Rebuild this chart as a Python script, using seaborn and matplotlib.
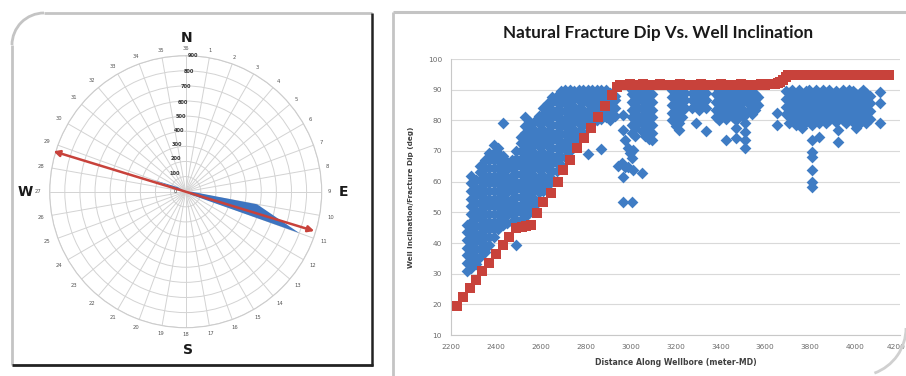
import numpy as np
import pandas as pd
import matplotlib
matplotlib.use("Agg")
import matplotlib.pyplot as plt
import matplotlib.transforms as mtransforms
import seaborn as sns
from matplotlib.patches import Arc
from matplotlib.lines import Line2D

# ---------------------------------------------------------------- data
# Rose diagram: fracture strike counts per 10-degree sector (sector k at k*10 deg)
sector_labels = [str(k) for k in range(1, 37)]
strike_count = [0, 0, 0, 0, 0, 0, 0, 0, 40, 480, 800, 40,
                0, 0, 0, 0, 0, 0, 0, 0, 0, 0, 0, 0,
                0, 0, 0, 0, 230, 60, 0, 0, 0, 0, 0, 0]
ring_values = [100, 200, 300, 400, 500, 600, 700, 800, 900]
# dominant fracture strike (azimuth, deg) drawn as the double arrow
strike_dir_w = 287.0
strike_dir_e = 107.0

# Well inclination survey (MD in m, inclination in deg)
incl_md = [2225, 2255, 2285, 2311, 2340, 2370, 2400, 2430, 2460, 2490,
           2515, 2535, 2555, 2582, 2611, 2644, 2678, 2700, 2730, 2763,
           2792, 2822, 2856, 2886, 2916, 2938,
           2952, 2967, 2982, 2997, 3012, 3027, 3042, 3057, 3072, 3087,
           3102, 3117, 3132, 3147, 3162, 3177, 3192, 3207, 3222, 3237,
           3252, 3267, 3282, 3297, 3312, 3327, 3342, 3357, 3372, 3387,
           3402, 3417, 3432, 3447, 3462, 3477, 3492, 3507, 3522, 3537,
           3552, 3567, 3582, 3597, 3612, 3627, 3642, 3655, 3667, 3679,
           3690, 3702, 3717, 3732, 3747, 3762, 3777, 3792, 3807, 3822,
           3837, 3852, 3867, 3882, 3897, 3912, 3927, 3942, 3957, 3972,
           3987, 4002, 4017, 4032, 4047, 4062, 4077, 4092, 4107, 4122,
           4137, 4150]
incl_deg = [19.6, 22.3, 25.2, 27.9, 30.9, 33.6, 36.4, 39.2, 41.9, 44.8,
            45.2, 45.5, 45.8, 49.7, 53.5, 56.4, 60.0, 63.8, 67.0, 70.9,
            74.1, 77.4, 81.2, 84.7, 88.3, 91.0,
            91.5, 91.6, 91.6, 91.7, 91.6, 91.5, 91.6, 91.7, 91.6, 91.6,
            91.5, 91.6, 91.7, 91.6, 91.6, 91.5, 91.6, 91.6, 91.7, 91.6,
            91.6, 91.5, 91.6, 91.6, 91.7, 91.6, 91.6, 91.5, 91.6, 91.6,
            91.7, 91.6, 91.6, 91.5, 91.6, 91.6, 91.7, 91.6, 91.6, 91.5,
            91.6, 91.6, 91.7, 91.6, 91.7, 91.8, 92.0, 92.2, 92.6, 93.3,
            94.2, 94.7, 94.8, 94.8, 94.9, 94.8, 94.8, 94.7, 94.8, 94.8,
            94.9, 94.8, 94.8, 94.8, 94.7, 94.8, 94.8, 94.9, 94.8, 94.8,
            94.8, 94.7, 94.8, 94.8, 94.9, 94.8, 94.8, 94.8, 94.7, 94.8,
            94.8, 94.8]

# Natural fracture dips picked along the wellbore, grouped by MD station
build_md = [2270, 2290, 2310, 2330, 2350, 2370, 2390, 2410, 2430, 2450,
            2470, 2490, 2510, 2530, 2550, 2570, 2590, 2610, 2630, 2650,
            2670, 2690, 2710, 2730, 2750, 2770, 2790, 2810, 2830, 2850,
            2870, 2890, 2910, 2930, 2944]
build_dip = [
    [31, 33.5, 36, 38.5, 41, 43.5, 46],
    [32, 34.5, 37, 39.5, 42, 44.5, 47, 49.5, 52, 54.5, 57, 59.5, 62],
    [33, 35.5, 38, 40.5, 43, 45.5, 48, 50.5, 53, 55.5, 58, 60.5],
    [35.5, 38, 40.5, 43, 45.5, 48, 50.5, 53, 55.5, 58, 60.5, 63, 65],
    [37, 39.5, 42, 44.5, 47, 49.5, 52, 54.5, 57, 59.5, 62, 64.5, 67],
    [39.5, 42, 44.5, 47, 49.5, 52, 54.5, 57, 59.5, 62, 64.5, 67, 69.5],
    [42, 44.5, 47, 49.5, 52, 54.5, 57, 59.5, 62, 64.5, 67, 69.5, 72],
    [44.5, 47, 49.5, 52, 54.5, 57, 59.5, 62, 64.5, 67, 69.5, 71],
    [46, 48.5, 51, 53.5, 56, 58.5, 61, 63.5, 66, 68.5, 79],
    [46.5, 49, 51.5, 54, 56.5, 59, 61.5, 64, 66.5],
    [47, 49.5, 52, 54.5, 57, 59.5, 62, 64.5, 67],
    [39.5, 47.5, 50, 52.5, 55, 57.5, 60, 62.5, 65, 67.5, 70],
    [47.5, 50, 52.5, 55, 57.5, 60, 62.5, 65, 67.5, 70, 72.5, 74.5],
    [48.5, 51, 53.5, 56, 58.5, 61, 63.5, 66, 68.5, 71, 73.5, 76, 78, 81],
    [50, 52.5, 55, 57.5, 60, 62.5, 65, 67.5, 70, 72.5, 75, 77.5, 79.5],
    [52, 54.5, 57, 59.5, 62, 64.5, 67, 69.5, 72, 74.5, 77, 79.5],
    [54, 56.5, 59, 61.5, 64, 66.5, 69, 71.5, 74, 76.5, 79, 81.5],
    [57, 59.5, 62, 64.5, 67, 69.5, 72, 74.5, 77, 79.5, 82, 84],
    [59, 61.5, 64, 66.5, 69, 71.5, 74, 76.5, 79, 81.5, 84, 85.5],
    [61, 63.5, 66, 68.5, 71, 73.5, 76, 78.5, 81, 83.5, 86, 87.5],
    [63.5, 66, 68.5, 71, 73.5, 76, 78.5, 81, 83.5, 86, 88],
    [65.5, 68, 70.5, 73, 75.5, 78, 80.5, 83, 85.5, 88, 89.5],
    [68, 70.5, 73, 75.5, 78, 80.5, 83, 85.5, 88, 90],
    [70, 72.5, 75, 77.5, 80, 82.5, 85, 87.5, 90],
    [72, 74.5, 77, 79.5, 82, 84.5, 87, 89.5],
    [74, 76.5, 79, 81.5, 84, 86.5, 89, 90],
    [76, 78.5, 81, 83.5, 86, 88.5, 90],
    [69, 78, 80.5, 83, 85.5, 88, 90],
    [79, 81.5, 84, 86.5, 89, 90],
    [80, 82.5, 85, 87.5, 90],
    [70.5, 80.5, 83, 85.5, 88, 90],
    [81, 83.5, 86, 88.5, 90],
    [80, 82.5, 85, 87.5, 89],
    [81.5, 84, 86.5, 88],
    [65],
]

lateral_md = [2960, 2968, 2975, 2990, 2997, 3005, 3012, 3020, 3035, 3050,
              3065, 3080, 3095,
              3185, 3200, 3215, 3230, 3242,
              3275, 3290, 3305, 3320, 3335,
              3380, 3395, 3410, 3425, 3440, 3455, 3470, 3485, 3500, 3510,
              3525, 3540, 3555, 3568,
              3651,
              3690, 3705, 3720, 3735, 3750, 3765, 3780, 3795, 3806, 3810,
              3825, 3840, 3855, 3870, 3885, 3900, 3915, 3925, 3930, 3945,
              3960, 3975, 3990, 4005, 4020, 4035, 4050, 4065,
              4111]
lateral_dip = [
    [66], [53.5, 61.6, 76.8, 81.7], [64.9, 73.6], [70.9, 64.9], [69.3],
    [53.5, 67.6, 76, 78.5, 81, 83.5, 86, 88.5, 90],
    [63.8, 70.3],
    [75, 77.5, 80, 82.5, 85, 87.5, 90],
    [79, 81.5, 84, 86.5, 89],
    [62.7, 76.5, 79, 81.5, 84, 86.5, 89],
    [75, 77.5, 80, 82.5, 85, 87.5, 90],
    [74, 76.5, 79, 81.5, 84, 86.5, 89],
    [73.6, 76, 78.5, 81, 83.5, 86, 88.5],
    [80, 82.5, 85, 87.5, 90],
    [78, 80.5, 83, 85.5, 88, 90],
    [76.8, 79, 81.5, 84, 86.5, 89],
    [81, 83.5, 86, 88.5],
    [84, 86.5, 89],
    [84, 86.5, 89],
    [79, 85, 87.5, 90],
    [83.5, 86, 88.5],
    [85, 87.5, 90],
    [76.6, 84, 86.5, 89],
    [81, 83.5, 86, 88.5],
    [80, 82.5, 85, 87.5, 90],
    [81.5, 84, 86.5, 89],
    [73.6, 80.5, 83, 85.5, 88],
    [82, 84.5, 87, 89.5],
    [81, 83.5, 86, 88.5],
    [74.1, 77.4, 80, 82.5, 85, 87.5, 90],
    [82, 84.5, 87, 89.5],
    [81, 83.5, 86, 88.5],
    [70.9, 73.6, 76.3, 79],
    [83, 85.5, 88, 90],
    [82, 84.5, 87, 89.5],
    [83.5, 86, 88.5],
    [85, 87.5],
    [78.5, 82.3],
    [82, 84.5, 87, 89.5],
    [79, 81.5, 84, 86.5, 89],
    [80, 82.5, 85, 87.5, 90],
    [78.5, 81, 83.5, 86, 88.5],
    [80, 82.5, 85, 87.5, 90],
    [77.4, 81, 83.5, 86, 88.5],
    [79.5, 82, 84.5, 87, 89.5],
    [80, 82.5, 85, 87.5, 90],
    [58.4, 60, 63.8, 68.1, 69.8, 73.6],
    [78.5, 81, 83.5, 86, 88.5],
    [80, 82.5, 85, 87.5, 90],
    [74.7, 79, 81.5, 84, 86.5, 89],
    [80.5, 83, 85.5, 88, 90],
    [79, 81.5, 84, 86.5, 89],
    [80, 82.5, 85, 87.5, 90],
    [81, 83.5, 86, 88.5],
    [79.5, 82, 84.5, 87, 89.5],
    [73, 76.8],
    [81, 83.5, 86, 88.5],
    [80, 82.5, 85, 87.5, 90],
    [79, 81.5, 84, 86.5, 89],
    [80.5, 83, 85.5, 88, 90],
    [79.5, 82, 84.5, 87, 89.5],
    [77.4, 81, 83.5, 86, 88.5],
    [79, 81.5, 84, 86.5, 89],
    [80, 82.5, 85, 87.5, 90],
    [79, 81.5, 84, 86.5, 89],
    [80.5, 83, 85.5, 88],
    [79.2, 85.5, 89.3],
]

x_ticks = [2200, 2400, 2600, 2800, 3000, 3200, 3400, 3600, 3800, 4000, 4200]
y_ticks = [10, 20, 30, 40, 50, 60, 70, 80, 90, 100]

# ---------------------------------------------------------------- tables
def stations_to_frame(md_list, dip_list):
    rows = [(md, d) for md, dips in zip(md_list, dip_list) for d in dips]
    return pd.DataFrame(rows, columns=["md", "dip"])

frac_df = pd.concat([stations_to_frame(build_md, build_dip),
                     stations_to_frame(lateral_md, lateral_dip)],
                    ignore_index=True)
incl_df = pd.DataFrame({"md": incl_md, "inc": incl_deg})

# ---------------------------------------------------------------- figure
W, H = 906, 376
sns.set_style("white")
plt.rcParams["font.family"] = ["DejaVu Sans"]

fig = plt.figure(figsize=(W / 100, H / 100), dpi=100)
fig.patch.set_facecolor("white")


def fx(px):
    return px / W


def fy(py):
    return 1 - py / H


def px_to_in(x, y):
    return x / 100, (H - y) / 100


# panel frames
frame_grey = "#c4c4c4"
for (x0, y0, x1, y1, c, lw) in [
    (44, 13, 372, 13, frame_grey, 2.0),
    (12, 45, 12, 365, frame_grey, 2.0),
    (372, 13, 372, 366, "#222222", 1.8),
    (12, 365, 373, 365, "#222222", 2.0),
    (393, 12, 906, 12, frame_grey, 2.2),
    (393, 12, 393, 376, frame_grey, 2.0),
]:
    fig.add_artist(Line2D([fx(x0), fx(x1)], [fy(y0), fy(y1)],
                          transform=fig.transFigure, color=c, lw=lw,
                          solid_capstyle="butt"))
cx, cy = px_to_in(44, 45)
fig.add_artist(Arc((cx, cy), 0.64, 0.64, theta1=90, theta2=180,
                   transform=fig.dpi_scale_trans, color=frame_grey, lw=2.0))
cx, cy = px_to_in(858, 328)
fig.add_artist(Arc((cx, cy), 0.96, 0.96, theta1=-70, theta2=0,
                   transform=fig.dpi_scale_trans, color="#d0d0d0", lw=2.0))

# ---------------------------------------------------------------- rose
CX, CY, R = 185.7, 191.7, 136.0
axr = fig.add_axes([fx(CX - R), fy(CY + R), 2 * R / W, 2 * R / H],
                   projection="polar")
axr.set_theta_zero_location("N")
axr.set_theta_direction(-1)
axr.set_ylim(0, 900)
axr.set_thetagrids(np.arange(0, 360, 10), labels=[""] * 36)
axr.set_rgrids(ring_values, labels=[""] * len(ring_values))
axr.grid(True, color="#d3d3d3", lw=0.7)
axr.spines["polar"].set_color("#cccccc")
axr.spines["polar"].set_linewidth(0.8)
axr.tick_params(length=0)
axr.set_facecolor("white")

theta = np.deg2rad([10 * k for k in range(1, 37)] + [10])
vals = strike_count + strike_count[:1]
axr.fill(theta, vals, color="#3d74c0", lw=0, zorder=3)

red = "#c8423b"
axr.annotate("", xy=(np.deg2rad(strike_dir_e), 890),
             xytext=(np.deg2rad(strike_dir_w), 915),
             arrowprops=dict(arrowstyle="<|-|>", color=red, lw=1.8,
                             mutation_scale=9, shrinkA=0, shrinkB=0),
             zorder=5, annotation_clip=False)

scale = 900 / R
for k, lab in enumerate(sector_labels, start=1):
    ang = np.deg2rad(10 * k)
    rr = 945 + (30 if len(lab) == 2 else 8) * abs(np.sin(ang))
    axr.text(ang, rr, lab, fontsize=3.8, color="#555555",
             ha="center", va="center", clip_on=False)

rlabel_offsets_px = [(-10.7, 17.7), (-9.7, 32.7), (-8.7, 46.7), (-6.7, 61.2),
                     (-4.7, 75.2), (-2.7, 89.7), (0.3, 104.7), (3.3, 120.2),
                     (7.3, 136.2)]
for val, (dx, dy) in zip(ring_values, rlabel_offsets_px):
    axr.text(np.arctan2(dx, dy), np.hypot(dx, dy) * scale, str(val),
             fontsize=3.6, color="#333333", fontweight="bold",
             ha="center", va="center", clip_on=False, zorder=6)
axr.text(np.arctan2(-10, 0.01), 10 * scale, "0", fontsize=3.6,
         color="#333333", ha="center", va="center", clip_on=False)

for lab, (dx, dy) in {"N": (1.0, 153.2), "E": (157.3, 0.0),
                      "S": (2.3, -158.3), "W": (-160.7, 0.0)}.items():
    axr.text(np.arctan2(dx, dy), np.hypot(dx, dy) * scale, lab,
             fontsize=10, fontweight="bold", color="#1a1a1a",
             ha="center", va="center", clip_on=False)

# ---------------------------------------------------------------- scatter
ax = fig.add_axes([fx(451), fy(335), (900 - 451) / W, (335 - 59) / H])
sns.scatterplot(data=frac_df, x="md", y="dip", marker="D", s=36,
                color="#3f7cc4", linewidth=0, ax=ax, legend=False, zorder=3)
sns.scatterplot(data=incl_df, x="md", y="inc", marker="s", s=44,
                color=red, linewidth=0, ax=ax, legend=False, zorder=4)

ax.set_xlim(2200, 4200)
ax.set_ylim(10, 100)
ax.set_xticks(x_ticks)
ax.set_yticks(y_ticks)
ax.set_xticklabels([str(v) for v in x_ticks])
ax.set_yticklabels([str(v) for v in y_ticks])
ax.yaxis.grid(True, color="#d9d9d9", lw=0.8)
ax.xaxis.grid(False)
for side in ["top", "right"]:
    ax.spines[side].set_visible(False)
for side in ["left", "bottom"]:
    ax.spines[side].set_color("#c8c8c8")
    ax.spines[side].set_linewidth(0.8)
ax.tick_params(axis="both", labelsize=5.3, colors="#6a6a6a", length=2.5,
               width=0.6, pad=4)
ax.tick_params(axis="both", which="both", color="#c8c8c8")
ax.set_axisbelow(True)
# keep the last x label inside the canvas
last = ax.get_xticklabels()[-1]
last.set_transform(last.get_transform() +
                   mtransforms.ScaledTranslation(-4 / 100, 0, fig.dpi_scale_trans))
ax.set_xlabel("Distance Along Wellbore (meter-MD)", fontsize=5.6,
              fontweight="bold", color="#404040", labelpad=6)
ax.set_ylabel("Well Inclination/Fracture Dip (deg)", fontsize=5.2,
              fontweight="bold", color="#404040", labelpad=10)
ax.patch.set_alpha(0)

fig.text(fx(658), fy(33), "Natural Fracture Dip Vs. Well Inclination",
         ha="center", va="center", fontsize=12.3, fontweight="bold",
         family=["Lato", "DejaVu Sans"], color="#1a1a1a")

fig.savefig("out.png", dpi=100, facecolor="white")
